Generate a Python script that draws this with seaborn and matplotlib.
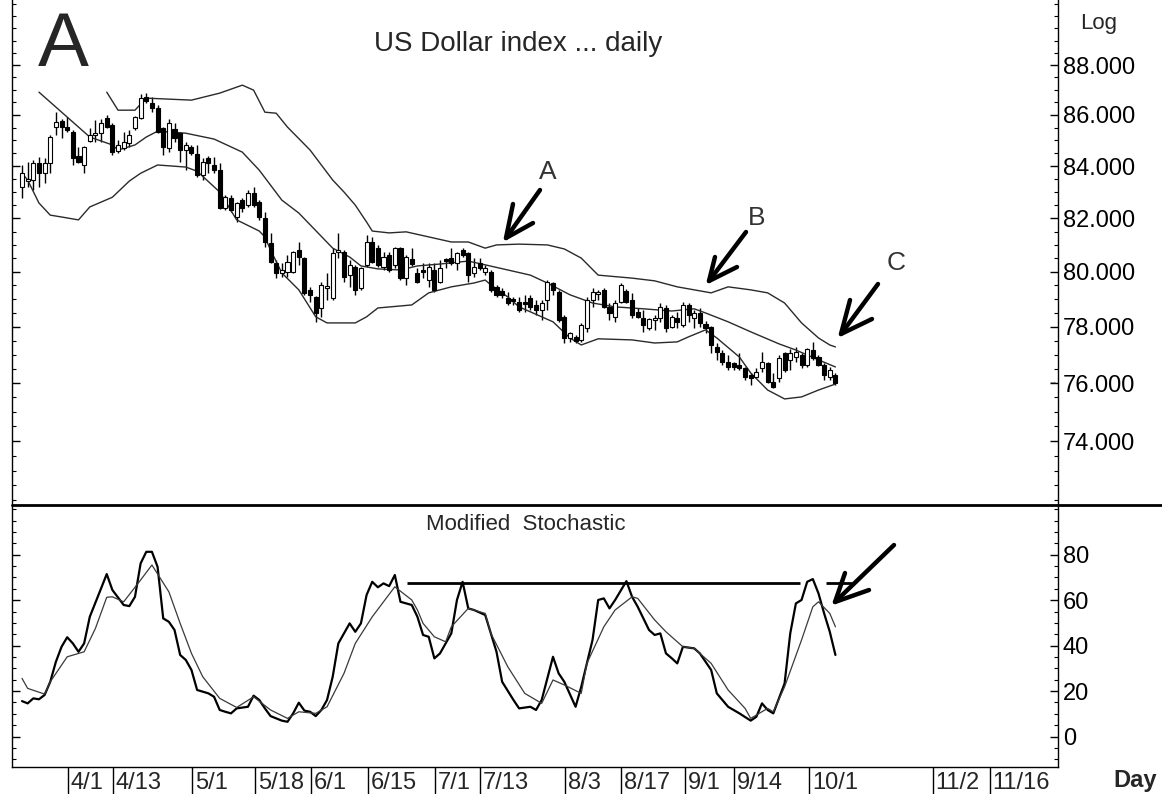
import numpy as np
import matplotlib
matplotlib.use("Agg")
import matplotlib.pyplot as plt
import matplotlib.transforms as mtransforms
from matplotlib.ticker import FixedLocator, MultipleLocator, NullFormatter, FuncFormatter
import seaborn as sns

# ------------------------------
# Data (US Dollar index, daily bars from 3/20)
# ------------------------------
opens = [83.19, 83.44, 83.46, 84.11, 83.72, 84.11, 85.52, 85.76, 85.52, 85.32,
         84.39, 84.04, 84.97, 85.21, 85.28, 85.88, 85.60, 84.58, 84.70, 84.89,
         85.48, 85.88, 86.71, 86.47, 86.27, 85.48, 84.70, 85.44, 85.28, 84.62,
         84.74, 84.47, 83.65, 84.31, 84.04, 83.84, 82.39, 82.77, 82.05, 82.69,
         82.50, 82.96, 82.62, 82.01, 81.07, 80.33, 79.96, 80.00, 80.00, 80.81,
         80.51, 79.34, 79.08, 78.68, 79.41, 79.04, 80.74, 80.74, 79.88, 80.18,
         79.41, 80.26, 81.11, 80.88, 80.18, 80.63, 80.26, 80.88, 79.77, 80.48,
         79.96, 80.07, 79.70, 80.07, 79.63, 80.48, 80.51, 80.33, 80.81, 80.70,
         79.96, 80.33, 80.00, 80.00, 79.45, 79.30, 79.04, 79.01, 78.90, 78.90,
         79.04, 78.79, 78.61, 78.97, 79.59, 79.27, 78.36, 77.60, 77.64, 77.53,
         77.96, 78.97, 79.19, 79.34, 78.72, 78.36, 78.90, 79.30, 78.97, 78.54,
         78.32, 77.96, 78.25, 78.32, 78.68, 78.00, 78.32, 78.07, 78.79, 78.32,
         78.50, 78.11, 78.00, 77.28, 77.07, 76.75, 76.71, 76.64, 76.54, 76.29,
         76.22, 76.54, 76.71, 76.04, 76.18, 77.07, 76.82, 76.92, 76.99, 76.64,
         77.17, 76.92, 76.64, 76.22, 76.29]
highs = [84.04, 84.15, 84.23, 84.35, 84.31, 85.21, 86.11, 85.84, 85.92, 85.40,
         84.74, 84.78, 85.48, 85.80, 85.84, 86.00, 85.68, 85.01, 85.32, 85.40,
         85.96, 86.83, 86.87, 86.71, 86.39, 85.52, 85.84, 85.68, 85.32, 84.93,
         84.82, 84.82, 84.31, 84.39, 84.35, 84.11, 82.88, 82.88, 82.62, 82.77,
         83.07, 83.19, 82.69, 82.24, 81.45, 80.44, 80.33, 80.63, 80.77, 81.11,
         80.55, 79.45, 79.10, 79.63, 79.96, 80.88, 81.45, 80.81, 80.44, 80.26,
         80.18, 81.37, 81.30, 81.00, 80.74, 80.74, 80.92, 80.92, 80.63, 80.88,
         80.14, 80.33, 80.33, 80.33, 80.44, 80.51, 80.88, 80.74, 80.88, 80.74,
         80.51, 80.51, 80.26, 80.07, 79.52, 79.41, 79.27, 79.08, 79.08, 79.16,
         79.16, 78.97, 78.97, 79.70, 79.63, 79.34, 78.43, 77.82, 77.71, 78.14,
         79.08, 79.41, 79.34, 79.41, 78.86, 78.97, 79.59, 79.37, 79.23, 78.68,
         78.61, 78.32, 78.43, 78.86, 78.79, 78.43, 78.54, 78.90, 78.86, 78.61,
         78.68, 78.21, 78.03, 77.42, 77.17, 76.99, 76.75, 77.07, 76.57, 76.36,
         76.54, 77.10, 76.75, 76.36, 76.99, 77.10, 77.21, 77.28, 77.07, 77.24,
         77.46, 76.99, 76.71, 76.57, 76.36]
lows = [82.77, 83.19, 83.07, 83.19, 83.34, 83.72, 85.21, 85.09, 85.32, 84.04,
        84.10, 83.72, 84.93, 84.93, 84.93, 85.48, 84.43, 84.50, 84.62, 84.74,
        85.40, 85.84, 86.47, 86.11, 85.28, 84.43, 84.54, 84.93, 84.15, 83.84,
        84.43, 83.57, 83.46, 83.72, 83.72, 82.35, 82.31, 82.24, 81.86, 82.24,
        82.43, 82.43, 81.94, 80.92, 80.33, 79.77, 79.81, 79.81, 79.96, 80.26,
        79.16, 78.90, 78.18, 78.36, 78.97, 78.97, 80.51, 79.63, 79.45, 79.16,
        79.34, 80.18, 80.33, 80.18, 80.07, 80.00, 80.14, 79.70, 79.52, 80.22,
        79.59, 79.77, 79.45, 79.27, 79.59, 80.14, 80.26, 80.07, 80.55, 79.63,
        79.81, 80.07, 79.88, 79.27, 79.08, 79.04, 78.79, 78.79, 78.54, 78.54,
        78.61, 78.43, 78.25, 78.61, 79.16, 78.18, 77.42, 77.46, 77.42, 77.46,
        77.82, 78.72, 78.97, 78.68, 78.25, 78.18, 78.86, 78.86, 78.32, 78.32,
        77.82, 77.89, 77.89, 78.18, 77.82, 77.96, 77.96, 78.00, 78.18, 77.96,
        78.00, 77.78, 77.07, 76.82, 76.64, 76.47, 76.47, 76.47, 76.11, 75.94,
        76.18, 76.40, 76.00, 75.83, 76.04, 76.40, 76.47, 76.75, 76.54, 76.57,
        76.82, 76.61, 76.11, 76.11, 75.94]
closes = [83.72, 83.48, 84.11, 83.72, 84.11, 85.13, 85.72, 85.52, 85.40, 84.31,
          84.15, 84.74, 85.21, 85.28, 85.68, 85.52, 84.54, 84.82, 84.93, 85.21,
          85.92, 86.67, 86.55, 86.27, 85.32, 84.74, 85.68, 85.09, 84.62, 84.82,
          84.50, 83.65, 84.15, 84.11, 83.84, 82.39, 82.80, 82.31, 82.58, 82.39,
          82.96, 82.50, 82.05, 81.11, 80.37, 79.96, 80.07, 80.37, 80.74, 80.55,
          79.23, 79.16, 78.50, 79.52, 79.48, 80.70, 80.81, 79.81, 80.26, 79.34,
          80.14, 81.11, 80.37, 80.26, 80.55, 80.07, 80.88, 79.77, 80.55, 80.29,
          79.63, 80.00, 80.18, 79.34, 80.14, 80.40, 80.33, 80.70, 80.63, 79.88,
          80.18, 80.14, 80.14, 79.34, 79.16, 79.16, 78.86, 78.93, 78.61, 78.82,
          78.72, 78.61, 78.86, 79.63, 79.34, 78.25, 77.60, 77.78, 77.49, 78.07,
          78.97, 79.27, 79.27, 78.72, 78.50, 78.86, 79.52, 78.90, 78.43, 78.36,
          78.07, 78.29, 78.32, 78.72, 77.96, 78.36, 78.18, 78.79, 78.43, 78.50,
          78.14, 77.96, 77.35, 77.10, 76.75, 76.57, 76.57, 76.54, 76.22, 76.18,
          76.40, 76.75, 76.04, 75.87, 76.89, 76.47, 77.07, 77.10, 76.64, 77.21,
          76.89, 76.64, 76.29, 76.47, 76.00]

# Bollinger bands (bar index, price)
upper_x = [15, 17, 20, 22, 30, 35, 39, 41, 43, 45, 47, 51, 55, 57, 59, 61, 62, 65, 68, 72,
           76, 79, 82, 84, 88, 93, 96, 99, 102, 108, 112, 116, 119, 122, 125, 129, 132, 135,
           138, 141, 143, 144]
upper_band = [86.91, 86.19, 86.19, 86.67, 86.59, 86.87, 87.19, 86.99, 86.11, 86.07,
              85.52, 84.62, 83.46, 83.00, 82.50, 81.86, 81.52, 81.45, 81.49, 81.30,
              81.11, 81.11, 80.88, 81.00, 81.03, 81.00, 80.85, 80.51, 79.88, 79.77,
              79.67, 79.45, 79.34, 79.23, 79.45, 79.34, 79.23, 78.86, 78.14, 77.60,
              77.35, 77.28]
mid_x = [3, 12, 16, 17, 20, 22, 24, 29, 34, 39, 42, 46, 49, 55, 58, 60, 63, 67, 70, 74,
         79, 82, 86, 90, 93, 97, 101, 105, 110, 115, 119, 121, 125, 129, 134, 137, 141, 144]
mid_band = [86.91, 85.13, 84.82, 84.62, 84.82, 85.13, 85.36, 85.28, 85.05, 84.54,
            83.84, 82.69, 82.20, 80.88, 80.55, 80.22, 80.11, 80.07, 80.22, 80.29,
            80.40, 80.26, 80.07, 79.88, 79.59, 79.16, 78.86, 78.72, 78.65, 78.57,
            78.65, 78.50, 78.18, 77.82, 77.39, 77.17, 76.82, 76.57]
lower_x = [0, 1, 3, 5, 7, 10, 12, 16, 19, 21, 24, 29, 31, 35, 38, 42, 43, 44, 46, 49,
           52, 54, 59, 61, 63, 69, 72, 76, 80, 82, 83, 86, 88, 92, 94, 97, 99, 102, 108,
           112, 116, 118, 121, 123, 127, 129, 132, 135, 138, 141, 144]
lower_band = [83.72, 83.46, 82.58, 82.12, 82.05, 81.94, 82.43, 82.80, 83.42, 83.72,
              84.04, 83.96, 83.80, 83.00, 81.94, 81.52, 81.30, 80.81, 79.96, 79.34,
              78.36, 78.14, 78.14, 78.36, 78.68, 78.79, 79.23, 79.45, 79.59, 79.70,
              79.52, 79.08, 78.72, 78.36, 78.18, 77.60, 77.35, 77.57, 77.53, 77.42,
              77.46, 77.64, 77.89, 77.60, 76.92, 76.36, 75.76, 75.45, 75.52, 75.76,
              75.97]

# Modified stochastic (bar index, value)
k_x = [0, 1, 2, 3, 4, 5, 6, 7, 8, 9, 10, 11, 12, 14, 15, 16, 18, 19, 20, 21, 22, 23, 24,
       25, 26, 27, 28, 29, 30, 31, 33, 34, 35, 36, 37, 38, 40, 41, 42, 43, 44, 46, 47, 48,
       49, 50, 51, 52, 53, 54, 55, 56, 58, 59, 60, 61, 62, 63, 64, 65, 66, 67, 68, 69, 70,
       71, 72, 73, 74, 76, 77, 78, 79, 80, 82, 84, 85, 87, 88, 90, 91, 92, 94, 95, 96, 98,
       99, 101, 102, 103, 104, 105, 107, 108, 109, 111, 112, 113, 114, 115, 116, 117, 119,
       120, 122, 123, 125, 127, 129, 130, 131, 132, 133, 135, 136, 137, 138, 139, 140, 141,
       142, 143, 144]
k_line = [15.6, 14.6, 16.8, 16.4, 18.3, 24.1, 32.9, 39.5, 43.7, 41.0, 37.3, 41.0, 52.7,
          65.2, 71.5, 64.5, 57.9, 57.4, 61.5, 76.2, 81.3, 81.3, 74.7, 52.0, 50.5, 46.9,
          35.9, 33.7, 29.3, 20.5, 19.0, 17.5, 11.7, 10.9, 10.2, 12.4, 13.1, 18.0, 16.1,
          12.4, 9.0, 7.0, 6.5, 10.2, 14.9, 11.4, 10.9, 9.0, 11.7, 16.1, 26.3, 41.0, 49.8,
          46.1, 49.8, 62.3, 68.1, 65.7, 67.4, 66.2, 71.1, 59.3, 58.6, 57.9, 52.7, 44.7,
          43.9, 34.4, 36.6, 45.4, 60.1, 68.1, 56.4, 55.7, 53.5, 37.3, 24.1, 16.1, 12.4,
          13.1, 11.7, 16.1, 35.1, 27.8, 24.1, 13.1, 21.9, 42.5, 60.1, 60.8, 56.4, 60.1,
          68.4, 61.5, 57.1, 46.9, 44.7, 45.4, 36.6, 34.5, 32.2, 39.5, 38.8, 36.6, 29.3,
          19.0, 13.1, 10.2, 7.0, 8.7, 14.6, 11.7, 10.2, 23.4, 45.4, 58.6, 60.1, 68.1,
          69.3, 63.0, 54.2, 46.1, 35.9]
d_x = [0, 1, 4, 5, 8, 11, 13, 15, 16, 18, 21, 23, 26, 28, 30, 32, 35, 38, 41, 44, 47, 49,
       52, 54, 57, 59, 62, 64, 66, 69, 70, 71, 73, 75, 76, 79, 82, 83, 86, 89, 92, 94, 96,
       99, 100, 103, 105, 108, 109, 112, 114, 117, 119, 122, 125, 128, 129, 132, 133, 135,
       138, 140, 141, 143, 144]
d_line = [25.6, 21.2, 18.7, 24.1, 35.1, 37.3, 47.6, 61.3, 61.5, 59.3, 68.9, 75.5, 63.7,
          49.8, 36.6, 26.3, 16.8, 12.8, 17.5, 11.7, 8.0, 10.9, 10.2, 13.1, 27.8, 41.0,
          52.7, 59.3, 65.9, 60.1, 55.7, 49.8, 43.9, 41.7, 48.3, 56.4, 54.2, 45.4, 30.7,
          19.0, 14.6, 24.9, 22.7, 19.0, 32.2, 48.3, 55.7, 61.5, 60.8, 51.3, 46.1, 39.5,
          38.8, 32.2, 20.5, 12.4, 8.0, 12.4, 10.9, 21.9, 42.5, 57.1, 59.3, 54.2, 48.3]
resist_level = 67.7
resist_from = [68.1, 142.4]
resist_to = [137.7, 146.9]

price_ticks = [74, 76, 78, 80, 82, 84, 86, 88]
stoch_ticks = [0, 20, 40, 60, 80]
date_labels = ["4/1", "4/13", "5/1", "5/18", "6/1", "6/15", "7/1", "7/13", "8/3",
               "8/17", "9/1", "9/14", "10/1", "11/2", "11/16"]
date_pos = [8.1, 16.05, 30.1, 41.2, 51.2, 61.2, 73.1, 81.1, 96.2, 106.1, 117.3, 126.1,
            139.3, 161.2, 171.3]

# ------------------------------
# Figure
# ------------------------------
sns.set_theme(style="white")
plt.rcParams["font.family"] = ["Liberation Sans", "DejaVu Sans"]

W, H = 1162, 794
fig = plt.figure(figsize=(W / 100, H / 100), dpi=100)
ax = fig.add_axes([12 / W, 1 - 505 / H, 1046 / W, 505 / H])
ax2 = fig.add_axes([12 / W, 1 - 767 / H, 1046 / W, 262 / H])

for a in (ax, ax2):
    a.set_facecolor("white")
    a.set_xlim(-1.77, 183.4)
    for s in a.spines.values():
        s.set_color("black")
        s.set_linewidth(1)
ax.spines["top"].set_visible(False)
ax.spines["bottom"].set_visible(False)
ax2.spines["top"].set_visible(False)

# candles
idx = np.arange(len(closes))
o, h, l, c = map(np.array, (opens, highs, lows, closes))
up = c >= o
ax.vlines(idx, l, h, color="black", lw=1, zorder=2)
body_lo = np.minimum(o, c)
body_h = np.maximum(np.abs(c - o), 0.03)
ax.bar(idx[up], body_h[up], bottom=body_lo[up], width=0.72, color="white",
       edgecolor="black", linewidth=0.8, zorder=3)
ax.bar(idx[~up], body_h[~up], bottom=body_lo[~up], width=0.72, color="black",
       edgecolor="black", linewidth=0.8, zorder=3)

band_kw = dict(ax=ax, color="#2a2a2a", linewidth=1.0, estimator=None, legend=False)
sns.lineplot(x=upper_x, y=upper_band, **band_kw)
sns.lineplot(x=mid_x, y=mid_band, **band_kw)
sns.lineplot(x=lower_x, y=lower_band, **band_kw)

ax.set_yscale("log")
ax.set_ylim(71.85, 90.68)
ax.yaxis.set_major_locator(FixedLocator(price_ticks))
ax.yaxis.set_minor_locator(FixedLocator(np.arange(72, 90.6, 0.5)))
ax.yaxis.set_major_formatter(FuncFormatter(lambda v, p: f"{v:.3f}"))
ax.yaxis.set_minor_formatter(NullFormatter())
ax.tick_params(axis="y", which="both", direction="in", left=True, right=True,
               labelleft=False, labelright=True, labelsize=17, pad=3.5, colors="black")
ax.tick_params(axis="y", which="major", length=6, width=1)
ax.tick_params(axis="y", which="minor", length=3, width=0.8)
ax.set_xticks([])
ax.set_xlabel("")
ax.set_ylabel("")

# stochastic
sns.lineplot(x=k_x, y=k_line, ax=ax2, color="black", linewidth=1.6, estimator=None, legend=False)
sns.lineplot(x=d_x, y=d_line, ax=ax2, color="#3a3a3a", linewidth=0.9, estimator=None, legend=False)
ax2.hlines([resist_level] * 2, resist_from, resist_to, color="black", lw=2)
ax2.set_ylim(-13.4, 101.9)
ax2.yaxis.set_major_locator(FixedLocator(stoch_ticks))
ax2.yaxis.set_minor_locator(MultipleLocator(5))
ax2.tick_params(axis="y", which="both", direction="in", left=True, right=True,
                labelleft=False, labelright=True, labelsize=17, pad=3.5, colors="black")
ax2.tick_params(axis="y", which="major", length=6, width=1)
ax2.tick_params(axis="y", which="minor", length=3, width=0.8)
ax2.set_xticks(date_pos)
ax2.tick_params(axis="x", which="major", direction="out", length=19.5, width=1,
                labelbottom=False, bottom=True, colors="black")
ax2.set_xlabel("")
ax2.set_ylabel("")
trans = mtransforms.offset_copy(
    mtransforms.blended_transform_factory(ax2.transData, ax2.transAxes),
    fig=fig, x=3, y=-5, units="dots")
for pos, lab in zip(date_pos, date_labels):
    ax2.text(pos, 0, lab, transform=trans, ha="left", va="top", fontsize=17)

# ------------------------------
# Overlay: titles, labels, hand-drawn arrows
# ------------------------------
ov = fig.add_axes([0, 0, 1, 1], facecolor="none")
ov.set_xlim(0, W)
ov.set_ylim(H, 0)
ov.axis("off")

ov.plot([12, W], [505, 505], color="black", lw=2)
ov.text(38, 66, "A", fontsize=55, va="baseline", ha="left")
ov.text(518, 51, "US Dollar index ... daily", fontsize=20, ha="center", va="baseline")
ov.text(426, 530, "Modified  Stochastic", fontsize=16, ha="left", va="baseline")
ov.text(1080, 29, "Log", fontsize=16, ha="left", va="baseline")
ov.text(1113, 787, "Day", fontsize=17, ha="left", va="baseline", fontweight="bold")
ov.text(1052, 383, "→", fontsize=6, ha="center", va="center", color="#555")

for lab, (tx, ty) in zip(["A", "B", "C"], [(548, 172), (757, 218), (896, 263)]):
    ov.text(tx, ty, lab, fontsize=19, ha="center", va="center", color="#333")

arrows = [
    [(540, 190), (506, 238), (513, 204), (533, 223)],
    [(746, 232), (709, 281), (715, 257), (737, 267)],
    [(878, 284), (841, 334), (850, 300), (872, 319)],
    [(894, 545), (835, 602), (845, 573), (869, 590)],
]
for tail, tip, h1, h2 in arrows:
    ov.plot([tail[0], tip[0]], [tail[1], tip[1]], color="black", lw=3.2, solid_capstyle="round")
    ov.plot([h1[0], tip[0], h2[0]], [h1[1], tip[1], h2[1]], color="black", lw=3.2,
            solid_capstyle="round", solid_joinstyle="round")

fig.savefig("out.png", dpi=100)
